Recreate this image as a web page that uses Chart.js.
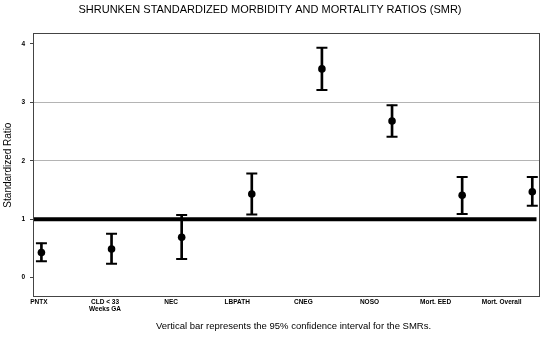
<!DOCTYPE html>
<html lang="en">
    <head>
        <meta charset="UTF-8">
        <title>Shrunken SMR</title>
        <script src="https://cdn.jsdelivr.net/npm/chart.js@4.4.0/dist/chart.umd.min.js"></script>
        <style>
            body, html {
                margin: 0;
                padding: 0;
                background-color: #ffffff;
            }
            #wrap {
                width: 553px;
                height: 338px;
            }
        </style>
    </head>
    <body>
        <div id="wrap"><canvas id="myChart"></canvas></div>
    </body>
    <script>
        // categories (x labels) and the shrunken SMR with 95% CI
        var categories = ["PNTX", ["CLD < 33", "Weeks GA"], "NEC", "LBPATH", "CNEG", "NOSO", "Mort. EED", "Mort. Overall"]
        var smr = [0.43, 0.49, 0.69, 1.43, 3.57, 2.68, 1.41, 1.47]
        var ciLow = [0.28, 0.24, 0.32, 1.08, 3.21, 2.41, 1.09, 1.23]
        var ciHigh = [0.59, 0.75, 1.07, 1.78, 3.93, 2.95, 1.72, 1.72]
        var yTicks = [0, 1, 2, 3, 4]
        var refValue = 1
        var caption = 'Vertical bar represents the 95% confidence interval for the SMRs.'

        var font = "'Liberation Sans', Arial, sans-serif"

        // box around the plot area + caption under the chart
        var boxPlugin = {
            id: 'box',
            afterDraw(chart) {
                var a = chart.chartArea
                var c = chart.ctx
                c.save()
                c.strokeStyle = '#444'
                c.lineWidth = 1
                c.strokeRect(Math.round(a.left) + 0.5, Math.round(a.top) + 0.5, Math.round(a.right - a.left) - 1, Math.round(a.bottom - a.top) - 1)
                c.fillStyle = '#000'
                c.font = "9.5px " + font
                c.textAlign = 'center'
                c.textBaseline = 'middle'
                c.fillText(caption, (a.left + a.right) / 2 + 7, a.bottom + 29)
                c.restore()
            }
        }

        var ctx = document.getElementById('myChart').getContext('2d');
        var myChart = new Chart(ctx, {
            data: {
                datasets: [
                    {
                        // reference line at SMR = 1
                        type: 'line',
                        data: [{ x: -0.12, y: refValue }, { x: 7.06, y: refValue }],
                        borderColor: '#000',
                        borderWidth: 4,
                        pointRadius: 0,
                        order: 5
                    },
                    {
                        // CI bar
                        type: 'bar',
                        data: smr.map((v, i) => ({ x: i, y: [ciLow[i], ciHigh[i]] })),
                        backgroundColor: '#000',
                        barThickness: 2,
                        borderWidth: 0,
                        order: 4
                    },
                    {
                        // caps
                        type: 'scatter',
                        data: ciLow.map((v, i) => ({ x: i, y: v })).concat(ciHigh.map((v, i) => ({ x: i, y: v }))),
                        pointStyle: 'line',
                        pointRadius: 5.5,
                        borderColor: '#000',
                        borderWidth: 2,
                        order: 3
                    },
                    {
                        type: 'scatter',
                        data: smr.map((v, i) => ({ x: i, y: v })),
                        pointStyle: 'circle',
                        pointRadius: 3.8,
                        backgroundColor: '#000',
                        borderColor: '#000',
                        borderWidth: 0,
                        order: 1
                    }
                ]
            },
            options: {
                responsive: true,
                maintainAspectRatio: false,
                animation: false,
                events: [],
                layout: {
                    padding: { left: 0, right: 13, top: 0, bottom: 23 }
                },
                scales: {
                    x: {
                        type: 'linear',
                        min: -0.12,
                        max: 7.11,
                        offset: false,
                        display: false
                    },
                    xl: {
                        // label axis, labels sit a bit left of the points like in the original
                        type: 'linear',
                        position: 'bottom',
                        min: -0.09,
                        max: 7.58,
                        offset: false,
                        afterBuildTicks: (axis) => { axis.ticks = categories.map((c, i) => ({ value: i })) },
                        afterFit: (axis) => { axis.height = 18 },
                        ticks: {
                            callback: (v) => categories[v],
                            maxRotation: 0,
                            autoSkip: false,
                            padding: 2,
                            color: '#000',
                            font: { family: font, size: 6.5, weight: 'bold', lineHeight: 1.0 }
                        },
                        grid: { display: false, drawTicks: false },
                        border: { display: false }
                    },
                    y: {
                        type: 'linear',
                        min: -0.33,
                        max: 4.18,
                        afterBuildTicks: (axis) => { axis.ticks = yTicks.map(v => ({ value: v })) },
                        afterFit: (axis) => { axis.width = 33 },
                        title: {
                            display: true,
                            text: 'Standardized Ratio',
                            color: '#000',
                            padding: { top: 2, bottom: 4 },
                            font: { family: font, size: 10 }
                        },
                        ticks: {
                            color: '#000',
                            padding: 5,
                            font: { family: font, size: 6.5, weight: 'bold' }
                        },
                        grid: {
                            color: (c) => (c.tick && (c.tick.value == 2 || c.tick.value == 3)) ? '#b4b4b4' : 'rgba(0,0,0,0)',
                            lineWidth: 1,
                            tickColor: '#444',
                            tickLength: 3
                        },
                        border: { display: false }
                    }
                },
                plugins: {
                    legend: { display: false },
                    tooltip: { enabled: false },
                    title: {
                        display: true,
                        text: 'SHRUNKEN STANDARDIZED MORBIDITY AND MORTALITY RATIOS (SMR)',
                        color: '#000',
                        font: { family: font, size: 11, weight: 'normal' },
                        padding: { top: 3, bottom: 17 }
                    }
                }
            },
            plugins: [boxPlugin]
        });
    </script>
</html>
